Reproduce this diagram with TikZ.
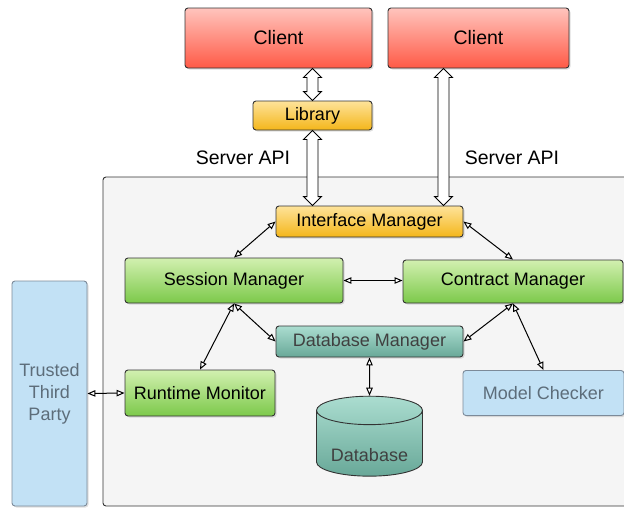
\documentclass[tikz,border=0pt]{standalone}
\usepackage{fontspec}
\setmainfont{Liberation Sans}
\usetikzlibrary{shapes.geometric, shadows, arrows.meta, calc}

\definecolor{redtop}{HTML}{FFC4BD}
\definecolor{redbot}{HTML}{FF5A46}
\definecolor{orgtop}{HTML}{FEE39A}
\definecolor{orgbot}{HTML}{F4B61A}
\definecolor{grntop}{HTML}{D2F0B0}
\definecolor{grnbot}{HTML}{7CC94A}
\definecolor{teltop}{HTML}{ABDDD0}
\definecolor{telbot}{HTML}{68A898}
\definecolor{bluefill}{HTML}{C2E1F5}
\definecolor{blueline}{HTML}{7C8A99}
\definecolor{bluetext}{HTML}{5D6D7A}

\tikzset{
	box/.style={draw=black!80, line width=0.9pt, rounded corners=3pt, align=center,
		font=\fontsize{18}{22}\selectfont,
		drop shadow={shadow xshift=1.5pt, shadow yshift=-1.5pt, opacity=0.25}},
	client/.style={box, top color=redtop, bottom color=redbot, font=\fontsize{19.5}{22}\selectfont},
	gold/.style={box, top color=orgtop, bottom color=orgbot},
	green/.style={box, top color=grntop, bottom color=grnbot},
	teal/.style={box, top color=teltop, bottom color=telbot, text=black!75},
	pale/.style={box, draw=blueline, fill=bluefill, text=bluetext},
	link/.style={line width=1pt, {Triangle[fill=white, length=8pt, width=6.5pt]}-{Triangle[fill=white, length=8pt, width=6.5pt]}}
}

% hollow double arrow between two points on one vertical line
\newcommand{\fatarrow}[2]{%
	\draw[line width=0.9pt, fill=white, line join=miter] let \p1=(#1), \p2=(#2) in
		(\x1,\y1) -- ++(9pt,-9pt) -- ++(-3.5pt,0) -- (\x1+5.5pt,\y2+9pt) -- ++(3.5pt,0)
		-- (\x1,\y2) -- ++(-9pt,9pt) -- ++(3.5pt,0) -- (\x1-5.5pt,\y1-9pt) -- ++(-3.5pt,0) -- cycle;}

\begin{document}
\begin{tikzpicture}[x=1pt, y=-1pt]
	\useasboundingbox (0,0) rectangle (624,507);
	\clip (0,0) rectangle (624,507);
	
	\draw[draw=black!80, line width=0.9pt, fill=black!4, rounded corners=3pt] (103,177) rectangle (660,506);
	
	\node[client, minimum width=187pt, minimum height=60pt] (cl1) at (278.5,38) {Client};
	\node[client, minimum width=181pt, minimum height=60pt] (cl2) at (478.5,38) {Client};
	\node[gold, minimum width=119pt, minimum height=29pt] (lib) at (312.5,115.5) {Library};
	\node[gold, minimum width=187pt, minimum height=31pt] (im) at (369.5,221.5) {Interface Manager};
	\node[green, minimum width=218pt, minimum height=45pt] (sm) at (234,280.5) {Session Manager};
	\node[green, minimum width=220pt, minimum height=43pt] (cm) at (513,281.5) {Contract Manager};
	\node[teal, minimum width=187pt, minimum height=31pt] (dbm) at (369.5,341.5) {Database Manager};
	\node[green, minimum width=150pt, minimum height=46pt] (rm) at (200,393) {Runtime Monitor};
	\node[pale, minimum width=75pt, minimum height=225pt] (ttp) at (49.5,393.5) {Trusted\\Third\\Party};
	\node[pale, minimum width=161pt, minimum height=45pt] (mc) at (543.5,393) {Model Checker};
	\node[cylinder, shape border rotate=90, aspect=0.34, draw=black!80, line width=0.9pt,
		minimum width=106pt, minimum height=80pt, text height=31pt, text depth=0pt,
		top color=teltop, bottom color=telbot,
		text=black!75, font=\fontsize{18}{22}\selectfont] (db) at (369.5,446) {Database};
	
	\node[font=\fontsize{19.5}{22}\selectfont] (api1) at (243,158) {Server API};
	\node[font=\fontsize{19.5}{22}\selectfont] (api2) at (512,158) {Server API};
	
	\coordinate (port) at ($(im.north east)+(-20,0)$);
	\fatarrow{lib.north |- cl1.south}{lib.north}
	\fatarrow{lib.south}{lib.south |- im.north}
	\fatarrow{port |- cl2.south}{port}
	
	\draw[link] (im.west) -- (sm.north);
	\draw[link] (im.east) -- (cm.north);
	\draw[link] (sm.east) -- (cm.west |- sm.east);
	\draw[link] (sm.south) -- (rm.north);
	\draw[link] (sm.south) -- (dbm.west);
	\draw[link] (cm.south) -- (dbm.east);
	\draw[link] (cm.south) -- (mc.north);
	\draw[link] (dbm.south) -- (db.north);
	\draw[link] (ttp.east) -- (rm.west);
\end{tikzpicture}
\end{document}
